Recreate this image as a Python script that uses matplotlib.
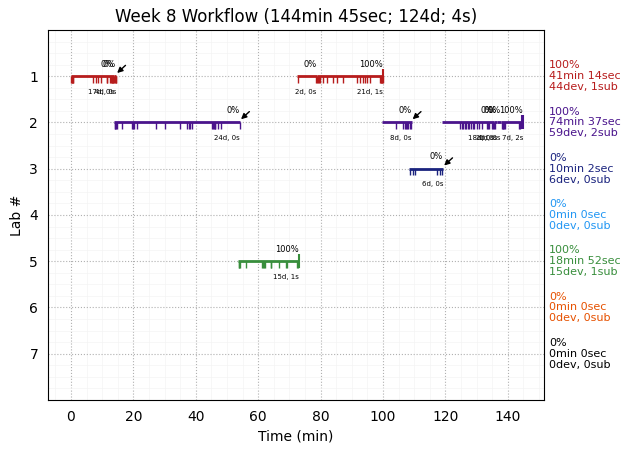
import matplotlib
matplotlib.use('Agg')
import matplotlib.pyplot as plt
from matplotlib.ticker import MultipleLocator
from matplotlib.transforms import blended_transform_factory

# Lab rows and summary values
labs = [1, 2, 3, 4, 5, 6, 7]
lab_colors = ['#b71c1c', '#4a148c', '#1a237e', '#2196f3', '#388e3c', '#e65100', 'black']
lab_scores = [100, 100, 0, 0, 100, 0, 0]
lab_seconds = [2474, 4477, 602, 0, 1132, 0, 0]

# Sessions per lab: (start min, end min, percent)
lab1_sessions = [(0.0, 13.8, 0), (13.8, 14.5, 0), (72.5, 78.8, 0), (78.8, 100.0, 100)]
lab2_sessions = [(13.9, 54.2, 0), (99.6, 109.2, 0), (118.8, 135.5, 0),
                 (135.5, 136.6, 0), (136.6, 137.8, 0), (137.8, 144.9, 100)]
lab3_sessions = [(108.4, 119.3, 0)]
lab5_sessions = [(53.6, 73.1, 100)]

# Development events (min)
lab1_devs = [0.0, 0.2, 0.4, 0.6, 0.8, 7.2, 8.1, 8.8, 9.6, 11.5, 11.7, 12.6, 12.8,
             13.0, 13.2, 13.5, 13.6,
             13.9, 14.1, 14.3, 14.4,
             72.8, 78.6,
             79.0, 79.3, 79.6, 79.9, 80.9, 82.0, 83.9, 85.2, 87.3, 91.6, 92.6,
             93.5, 94.3, 95.0, 95.8, 99.0, 99.3, 99.5, 99.7, 99.8, 99.9]
lab2_devs = [14.0, 14.2, 14.4, 14.6, 16.2, 19.6, 19.8, 20.1, 21.3, 27.4, 30.1, 34.9,
             37.1, 37.7, 38.3, 38.9, 45.1, 45.4, 45.7, 46.0, 46.2, 47.0, 48.1, 54.1,
             104.2, 106.5, 106.9, 107.3, 107.7, 108.1, 108.5, 108.9,
             124.7, 125.2, 125.7, 126.2, 126.7, 127.2, 127.7, 128.2, 128.7, 129.3,
             130.0, 130.9, 131.6, 133.4, 133.7, 134.0, 135.0, 135.4,
             135.6, 135.9,
             138.0, 138.3, 138.6, 138.9, 139.1, 143.6, 143.8]
lab3_devs = [108.6, 109.5, 110.4, 117.4, 118.2, 119.0]
lab5_devs = [53.7, 53.9, 54.1, 56.1, 61.3, 61.6, 61.9, 62.2, 64.0, 64.2, 66.8,
             68.9, 69.1, 72.5, 72.7]

# Submission events (min)
lab1_subs = [100.0]
lab2_subs = [144.4, 144.8]
lab3_subs = []
lab5_subs = [73.0]

sessions = {1: lab1_sessions, 2: lab2_sessions, 3: lab3_sessions, 4: [],
            5: lab5_sessions, 6: [], 7: []}
devs = {1: lab1_devs, 2: lab2_devs, 3: lab3_devs, 4: [], 5: lab5_devs, 6: [], 7: []}
subs = {1: lab1_subs, 2: lab2_subs, 3: lab3_subs, 4: [], 5: lab5_subs, 6: [], 7: []}


def fmt_time(sec):
    return f'{sec // 60}min {sec % 60}sec'


fig = plt.figure(figsize=(6.3, 4.53), dpi=100)
ax = fig.add_axes([0.076, 0.117, 0.7875, 0.8168])

for lab, color in zip(labs, lab_colors):
    sess = sessions[lab]
    d = devs[lab]
    s = subs[lab]
    for i, (start, end, pct) in enumerate(sess):
        ax.hlines(lab, start, end, color=color, lw=2)
        nd = sum(1 for t in d if start <= t <= end)
        ns = sum(1 for t in s if start <= t <= end)
        ax.text(end, lab - 0.2, f'{pct}%', fontsize=6, ha='right', va='baseline')
        ax.text(end, lab + 0.27, f'{nd}d, {ns}s', fontsize=5, ha='right', va='top')
        # arrow at the end of a block that closed without a submission
        gap = i == len(sess) - 1 or sess[i + 1][0] > end
        if pct == 0 and gap:
            ax.annotate('', xy=(end + 0.3, lab - 0.07), xytext=(6, 5.5),
                        textcoords='offset points',
                        arrowprops=dict(arrowstyle='-|>', color='black', lw=1,
                                        mutation_scale=8, shrinkA=0, shrinkB=0))
    if d:
        ax.vlines(d, lab, lab + 0.14, color=color, lw=1.0)
    if s:
        ax.vlines(s, lab - 0.16, lab + 0.14, color=color, lw=1.5)

# summaries to the right of the axes
trans = blended_transform_factory(ax.transAxes, ax.transData)
for lab, color, score, sec in zip(labs, lab_colors, lab_scores, lab_seconds):
    txt = f'{score}%\n{fmt_time(sec)}\n{len(devs[lab])}dev, {len(subs[lab])}sub'
    ax.text(1.01, lab, txt, transform=trans, color=color, fontsize=8,
            ha='left', va='center', linespacing=1.1)

total_sec = sum(lab_seconds)
total_devs = sum(len(v) for v in devs.values())
total_subs = sum(len(v) for v in subs.values())
ax.set_title(f'Week 8 Workflow ({fmt_time(total_sec)}; {total_devs}d; {total_subs}s)',
             fontsize=12)

ax.set_xlim(-7.4, 151.6)
ax.set_ylim(8, 0)
ax.set_yticks(labs)
ax.set_xticks(range(0, 141, 20))
ax.xaxis.set_minor_locator(MultipleLocator(5))
ax.yaxis.set_minor_locator(MultipleLocator(0.25))
ax.grid(which='major', color='#b0b0b0', linestyle=':', lw=0.8)
ax.grid(which='minor', color='#f4f4f4', linestyle='-', lw=0.5)
ax.set_axisbelow(True)
ax.tick_params(which='both', color='none')
ax.set_xlabel('Time (min)')
ax.set_ylabel('Lab #')

fig.savefig('out.png', dpi=100)
